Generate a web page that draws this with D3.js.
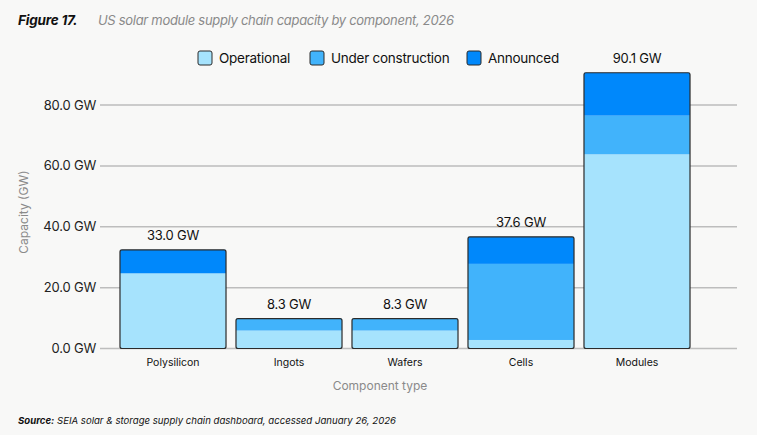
<!DOCTYPE html>
<html>
<head>
  <meta charset="utf-8">
  <title>US solar module supply chain capacity by component, 2026</title>
  <style>
    body { margin: 0; background: #f8f8f7; }
    svg { display: block; font-family: Inter, "Liberation Sans", sans-serif; }
  </style>
</head>
<body>
  <svg width="757" height="435"></svg>
  <script src="https://d3js.org/d3.v7.min.js"></script>
  <script>
  // data (GW); bar segments as drawn, labels as printed
  var components = ['Polysilicon', 'Ingots', 'Wafers', 'Cells', 'Modules'];
  var operational = [24.7, 5.9, 5.9, 2.8, 63.8];
  var underConstruction = [0.0, 3.9, 3.9, 25.0, 12.7];
  var announced = [7.7, 0.0, 0.0, 8.9, 14.1];
  var totals = [33.0, 8.3, 8.3, 37.6, 90.1];
  var yTicks = [0, 20, 40, 60, 80];

  var seriesNames = ['Operational', 'Under construction', 'Announced'];
  var seriesColors = ['#a6e3fd', '#41b3fb', '#0088fb'];

  var rows = components.map(function(c, i) {
    return { name: c, Operational: operational[i], 'Under construction': underConstruction[i], Announced: announced[i], total: totals[i] };
  });

  var svg = d3.select('svg');

  var x = d3.scaleBand()
    .domain(components)
    .range([115, 695])
    .paddingInner(0.086)
    .paddingOuter(0.043);

  var y = d3.scaleLinear()
    .domain([0, 80])
    .range([348.5, 105]);

  // gridlines + tick labels
  var grid = svg.append('g');
  grid.selectAll('line')
    .data(yTicks)
    .enter()
    .append('line')
    .attr('x1', 100)
    .attr('x2', 737)
    .attr('y1', function(d) { return y(d); })
    .attr('y2', function(d) { return y(d); })
    .attr('stroke', '#bdbdbd')
    .attr('stroke-width', 1.5);

  grid.selectAll('text')
    .data(yTicks)
    .enter()
    .append('text')
    .attr('x', 96)
    .attr('y', function(d) { return y(d); })
    .attr('dy', '0.35em')
    .attr('text-anchor', 'end')
    .attr('font-size', 13)
    .attr('letter-spacing', -0.2)
    .attr('fill', '#222')
    .text(function(d) { return d3.format('.1f')(d) + ' GW'; });

  // stacked bars
  var layers = d3.stack().keys(seriesNames)(rows);

  var bars = svg.append('g');
  bars.selectAll('g')
    .data(layers)
    .enter()
    .append('g')
    .attr('fill', function(d, i) { return seriesColors[i]; })
    .selectAll('rect')
    .data(function(d) { return d; })
    .enter()
    .append('rect')
    .attr('x', function(d) { return x(d.data.name); })
    .attr('width', x.bandwidth())
    .attr('y', function(d) { return y(d[1]); })
    .attr('height', function(d) { return y(d[0]) - y(d[1]); });

  // outline around each whole bar
  bars.selectAll('.outline')
    .data(layers[layers.length - 1])
    .enter()
    .append('rect')
    .attr('class', 'outline')
    .attr('x', function(d) { return x(d.data.name); })
    .attr('width', x.bandwidth())
    .attr('y', function(d) { return y(d[1]); })
    .attr('height', function(d) { return y(0) - y(d[1]); })
    .attr('rx', 2)
    .attr('fill', 'none')
    .attr('stroke', '#2b2b2b')
    .attr('stroke-width', 1.2);

  // value labels
  svg.append('g').selectAll('text')
    .data(layers[layers.length - 1])
    .enter()
    .append('text')
    .attr('x', function(d) { return x(d.data.name) + x.bandwidth() / 2; })
    .attr('y', function(d) { return y(d[1]) - 10; })
    .attr('text-anchor', 'middle')
    .attr('font-size', 13)
    .attr('letter-spacing', -0.2)
    .attr('fill', '#111')
    .text(function(d) { return d3.format('.1f')(d.data.total) + ' GW'; });

  // x tick labels
  svg.append('g').selectAll('text')
    .data(components)
    .enter()
    .append('text')
    .attr('x', function(d) { return x(d) + x.bandwidth() / 2; })
    .attr('y', 366)
    .attr('text-anchor', 'middle')
    .attr('font-size', 10.5)
    .attr('fill', '#111')
    .text(function(d) { return d; });

  // axis titles
  svg.append('text')
    .attr('x', 380)
    .attr('y', 390)
    .attr('text-anchor', 'middle')
    .attr('font-size', 12)
    .attr('fill', '#8a8a8a')
    .text('Component type');

  svg.append('text')
    .attr('transform', 'translate(28,212) rotate(-90)')
    .attr('text-anchor', 'middle')
    .attr('font-size', 12)
    .attr('fill', '#8a8a8a')
    .text('Capacity (GW)');

  // legend
  var legendX = [198, 310, 467];
  var legend = svg.append('g').selectAll('g')
    .data(seriesNames)
    .enter()
    .append('g')
    .attr('transform', function(d, i) { return 'translate(' + legendX[i] + ',51)'; });
  legend.append('rect')
    .attr('width', 14)
    .attr('height', 14)
    .attr('rx', 2)
    .attr('fill', function(d, i) { return seriesColors[i]; })
    .attr('stroke', '#2b2b2b')
    .attr('stroke-width', 1);
  legend.append('text')
    .attr('x', 21)
    .attr('y', 7)
    .attr('dy', '0.35em')
    .attr('font-size', 13.5)
    .attr('letter-spacing', -0.25)
    .attr('fill', '#111')
    .text(function(d) { return d; });

  // title
  var title = svg.append('text')
    .attr('x', 18)
    .attr('y', 25)
    .attr('font-style', 'italic');
  title.append('tspan')
    .attr('font-size', 13.5)
    .attr('letter-spacing', -0.2)
    .attr('font-weight', 'bold')
    .attr('fill', '#111')
    .text('Figure 17.');
  title.append('tspan')
    .attr('x', 98)
    .attr('font-size', 13)
    .attr('letter-spacing', -0.3)
    .attr('fill', '#8a8a8a')
    .text('US solar module supply chain capacity by component, 2026');

  // source
  var source = svg.append('text')
    .attr('x', 18)
    .attr('y', 424)
    .attr('font-size', 9.6)
    .attr('font-style', 'italic')
    .attr('fill', '#111');
  source.append('tspan')
    .attr('font-weight', 'bold')
    .text('Source:');
  source.append('tspan')
    .text(' SEIA solar & storage supply chain dashboard, accessed January 26, 2026');
  </script>
</body>
</html>
